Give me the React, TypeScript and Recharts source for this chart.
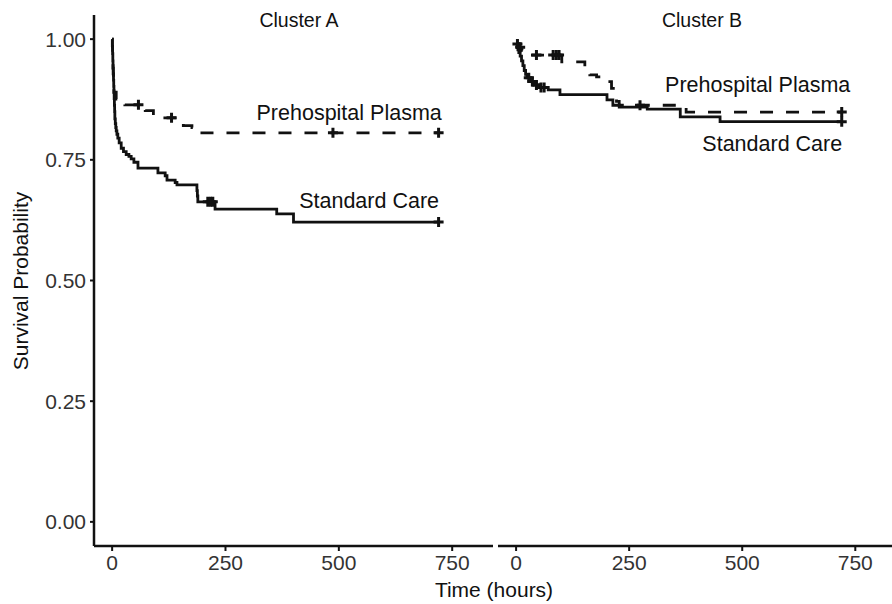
import React from "react";
import { LineChart, Line, XAxis, YAxis, ReferenceDot } from "recharts";

// Cluster A - Standard Care (time in hours, survival, 1 = censored)
const aStdTime = [0, 0.5, 1, 1.5, 2, 2.5, 3, 3.5, 4, 4.5, 5, 5.5, 6, 7, 8, 9, 10.5, 12.5, 15.5, 20, 25, 31, 37, 42, 48, 57, 101, 117, 121, 139, 143, 187, 188, 189, 211, 217, 222, 227, 363, 400, 720];
const aStdSurv = [1, 0.985, 0.97, 0.955, 0.94, 0.928, 0.915, 0.902, 0.89, 0.877, 0.863, 0.85, 0.835, 0.825, 0.817, 0.81, 0.803, 0.795, 0.785, 0.774, 0.767, 0.761, 0.757, 0.752, 0.745, 0.733, 0.723, 0.717, 0.708, 0.703, 0.698, 0.686, 0.675, 0.663, 0.663, 0.663, 0.663, 0.648, 0.638, 0.621, 0.621];
const aStdCens = [0, 0, 0, 0, 0, 0, 0, 0, 0, 0, 0, 0, 0, 0, 0, 0, 0, 0, 0, 0, 0, 0, 0, 0, 0, 0, 0, 0, 0, 0, 0, 0, 0, 0, 1, 1, 1, 0, 0, 0, 1];

// Cluster A - Prehospital Plasma
const aPlaTime = [0, 0.5, 1, 1.5, 2, 2.5, 3, 3.5, 4, 9, 28, 58, 73, 91, 131, 157, 176, 190, 487, 720];
const aPlaSurv = [1, 0.985, 0.97, 0.955, 0.94, 0.928, 0.915, 0.9, 0.89, 0.876, 0.864, 0.864, 0.852, 0.837, 0.837, 0.821, 0.817, 0.806, 0.806, 0.806];
const aPlaCens = [0, 0, 0, 0, 0, 0, 0, 0, 0, 0, 0, 1, 0, 0, 1, 0, 0, 0, 1, 1];

// Cluster B - Standard Care
const bStdTime = [0, 2, 4, 6, 9, 12, 15, 18, 21, 24, 28, 32, 36, 40, 45, 50, 55, 62, 71, 97, 201, 214, 228, 290, 363, 451, 720];
const bStdSurv = [0.99, 0.985, 0.978, 0.972, 0.965, 0.955, 0.945, 0.935, 0.927, 0.92, 0.92, 0.912, 0.912, 0.905, 0.905, 0.9, 0.9, 0.9, 0.895, 0.885, 0.874, 0.863, 0.859, 0.855, 0.839, 0.829, 0.829];
const bStdCens = [0, 0, 0, 0, 0, 0, 0, 0, 0, 0, 1, 0, 1, 0, 1, 0, 1, 1, 0, 0, 0, 0, 0, 0, 0, 0, 1];

// Cluster B - Prehospital Plasma
const bPlaTime = [0, 3, 6, 9, 13, 30, 45, 82, 89, 95, 101, 152, 158, 163, 178, 193, 211, 215, 222, 228, 274, 376, 720];
const bPlaSurv = [0.99, 0.99, 0.983, 0.983, 0.977, 0.967, 0.967, 0.967, 0.967, 0.967, 0.953, 0.94, 0.933, 0.926, 0.922, 0.912, 0.898, 0.881, 0.871, 0.863, 0.863, 0.849, 0.849];
const bPlaCens = [0, 1, 0, 1, 0, 0, 1, 1, 1, 1, 0, 0, 0, 0, 0, 0, 0, 0, 0, 0, 1, 0, 1];

const xTicks = [0, 250, 500, 750];
const yTicks = [0, 0.25, 0.5, 0.75, 1];
const panelTitles = ["Cluster A", "Cluster B"];
const groupNames = ["Prehospital Plasma", "Standard Care"];

const FONT = '"Liberation Sans", Arial, Helvetica, sans-serif';
const INK = "#111";

type Row = { t: number; s: number; c: number };

function toRows(t: number[], s: number[], c: number[]): Row[] {
  return t.map((v, i) => ({ t: v, s: s[i], c: c[i] }));
}

const aStd = toRows(aStdTime, aStdSurv, aStdCens);
const aPla = toRows(aPlaTime, aPlaSurv, aPlaCens);
const bStd = toRows(bStdTime, bStdSurv, bStdCens);
const bPla = toRows(bPlaTime, bPlaSurv, bPlaCens);

// censor marks drawn as "+"
function CensorMark(props: any) {
  const { cx, cy, payload, index } = props;
  if (!payload || !payload.c || cx == null || cy == null) return <g key={`n${index}`} />;
  return (
    <path
      key={`c${index}`}
      d={`M${cx - 5},${cy}H${cx + 5}M${cx},${cy - 5}V${cy + 5}`}
      stroke={INK}
      strokeWidth={3}
      strokeDasharray="none"
      fill="none"
    />
  );
}

function endLabel(text: string) {
  return (props: any) => {
    const vb = props.viewBox || {};
    return (
      <text x={vb.x} y={vb.y} textAnchor="end" fontSize={21.5} fontFamily={FONT} fill={INK}>
        {text}
      </text>
    );
  };
}

interface PanelProps {
  width: number;
  showY: boolean;
  std: Row[];
  pla: Row[];
  // where the group names sit (data coords, right end / baseline)
  labelAt: { t: number; s: number }[];
}

function Panel({ width, showY, std, pla, labelAt }: PanelProps) {
  return (
    <LineChart width={width} height={604} margin={{ top: 15, right: 0, bottom: 28, left: 0 }}>
      <XAxis
        type="number"
        dataKey="t"
        domain={[-40, 840]}
        ticks={xTicks}
        allowDataOverflow
        height={30}
        axisLine={{ stroke: INK, strokeWidth: 2.5 }}
        tickLine={{ stroke: INK, strokeWidth: 2 }}
        tickSize={5}
        tickMargin={4}
        tick={{ fill: "#333", fontSize: 21, fontFamily: FONT }}
      />
      <YAxis
        type="number"
        dataKey="s"
        domain={[-0.05, 1.05]}
        ticks={yTicks}
        allowDataOverflow
        hide={!showY}
        width={94}
        tickFormatter={(v: number) => v.toFixed(2)}
        axisLine={{ stroke: INK, strokeWidth: 2.5 }}
        tickLine={{ stroke: INK, strokeWidth: 2 }}
        tickSize={4}
        tickMargin={4}
        tick={{ fill: "#333", fontSize: 21, fontFamily: FONT }}
      />
      <Line
        data={pla}
        dataKey="s"
        type="stepAfter"
        stroke={INK}
        strokeWidth={2.8}
        strokeDasharray="13 13"
        dot={CensorMark}
        activeDot={false}
        isAnimationActive={false}
      />
      <Line
        data={std}
        dataKey="s"
        type="stepAfter"
        stroke={INK}
        strokeWidth={2.8}
        dot={CensorMark}
        activeDot={false}
        isAnimationActive={false}
      />
      {groupNames.map((name, i) => (
        <ReferenceDot
          key={name}
          x={labelAt[i].t}
          y={labelAt[i].s}
          r={0}
          fill="none"
          stroke="none"
          label={endLabel(name)}
        />
      ))}
    </LineChart>
  );
}

export default function App() {
  return (
    <div
      style={{
        position: "absolute",
        left: 0,
        top: 0,
        width: 892,
        height: 604,
        overflow: "hidden",
        background: "#fff",
        fontFamily: FONT,
      }}
    >
      <div style={{ position: "absolute", left: 0, top: 0 }}>
        <Panel
          width={493}
          showY
          std={aStd}
          pla={aPla}
          labelAt={[
            { t: 727, s: 0.833 },
            { t: 721, s: 0.65 },
          ]}
        />
      </div>
      <div style={{ position: "absolute", left: 498, top: 0 }}>
        <Panel
          width={398}
          showY={false}
          std={bStd}
          pla={bPla}
          labelAt={[
            { t: 739, s: 0.891 },
            { t: 721, s: 0.768 },
          ]}
        />
      </div>
      <svg
        width={892}
        height={604}
        style={{ position: "absolute", left: 0, top: 0, pointerEvents: "none" }}
        fontFamily={FONT}
      >
        <text x={299} y={27} textAnchor="middle" fontSize={19.5} fill={INK}>
          {panelTitles[0]}
        </text>
        <text x={702} y={27} textAnchor="middle" fontSize={19.5} fill={INK}>
          {panelTitles[1]}
        </text>
        <text x={494} y={597} textAnchor="middle" fontSize={21} fill={INK}>
          Time (hours)
        </text>
        <text
          transform="translate(28,281) rotate(-90)"
          textAnchor="middle"
          fontSize={21}
          fill={INK}
        >
          Survival Probability
        </text>
      </svg>
    </div>
  );
}
